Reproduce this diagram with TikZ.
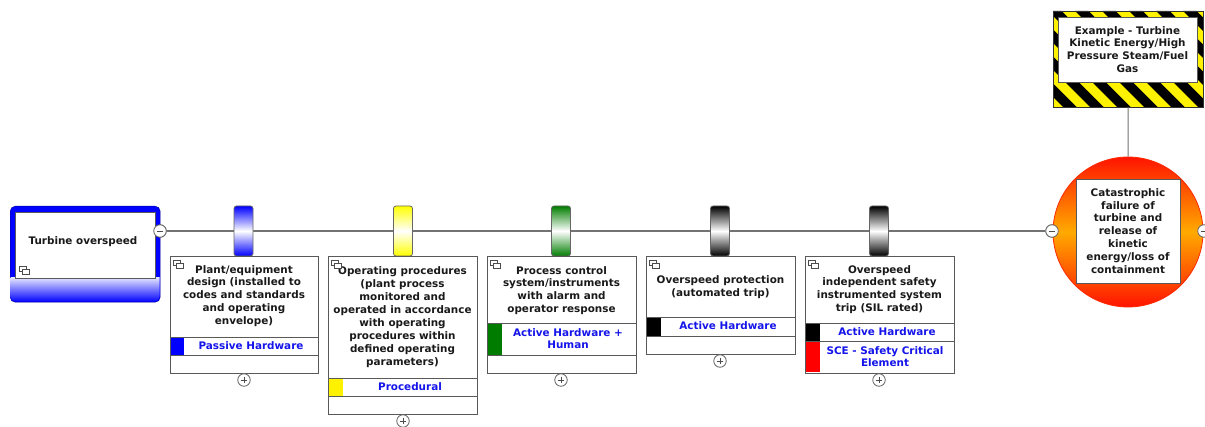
\documentclass[tikz,border=0pt]{standalone}
\usepackage{fontspec}
\setmainfont{DejaVu Sans}
\definecolor{lblue}{RGB}{20,20,235}
\definecolor{dgreen}{RGB}{0,125,0}
\definecolor{evred}{RGB}{255,20,0}
\definecolor{evorange}{RGB}{255,170,0}
\tikzset{
  frame/.style={draw=black!65, line width=0.9pt, fill=white, inner sep=0pt},
  ttl/.style={font=\bfseries\fontsize{10.4}{12.9}\selectfont, align=center, inner sep=0pt, text=black!90},
  lbl/.style={font=\bfseries\fontsize{10.4}{12.2}\selectfont, align=center, inner sep=0pt, text=lblue},
  rowline/.style={draw=black!65, line width=0.9pt},
  mainline/.style={draw=black!55, line width=1.1pt},
  tabbox/.style={draw=black!60, line width=0.8pt, rounded corners=2.5pt, minimum width=19pt, minimum height=50pt, inner sep=0pt},
  signnode/.style={circle, draw=black!60, fill=white, minimum size=12.5pt, inner sep=0pt, line width=0.8pt},
  minusnode/.style={signnode, path picture={\draw[black!70, line width=0.9pt] ([xshift=2.8pt]path picture bounding box.west) -- ([xshift=-2.8pt]path picture bounding box.east);}},
  plusnode/.style={signnode, path picture={\draw[black!70, line width=0.9pt] ([xshift=2.8pt]path picture bounding box.west) -- ([xshift=-2.8pt]path picture bounding box.east); \draw[black!70, line width=0.9pt] ([yshift=-2.8pt]path picture bounding box.north) -- ([yshift=2.8pt]path picture bounding box.south);}},
  dbl/.pic={\draw[black!70, line width=0.6pt, fill=white] (0,0) rectangle (7,5); \draw[black!70, line width=0.6pt, fill=white] (3,3) rectangle (10,8);}
}
\begin{document}
\begin{tikzpicture}[x=1pt,y=-1pt]
\useasboundingbox (0,0) rectangle (1205,427);
\fill[white] (0,0) rectangle (1205,427);

% main line
\node[minusnode] (m1) at (160,231) {};
\node[minusnode] (m2) at (1052,231) {};
\draw[mainline] (m1) -- (m2);

% Turbine overspeed (threat)
\node[draw=blue!60!black, fill=blue, rounded corners=5pt, minimum width=150pt, minimum height=96pt, anchor=north west, inner sep=0pt] (tb) at (10,206) {};
\begin{scope}
  \clip[rounded corners=5pt] (10.5,206.5) rectangle (159.5,301.5);
  \shade[top color=blue!12, bottom color=blue] (10,278) rectangle (160,302);
\end{scope}
\node[frame, minimum width=140pt, minimum height=66pt] (tbbox) at (85,245) {};
\node[ttl] (tbt) at (83,242) {Turbine overspeed};
\pic at (19,266) {dbl};
\node[minusnode] (m1b) at (160,231) {};

% barrier tabs
\node[tabbox, top color=blue, bottom color=blue, middle color=white] (g1) at (243.5,231) {};
\node[tabbox, top color=yellow, bottom color=yellow, middle color=white] (g2) at (403,231) {};
\node[tabbox, top color=dgreen, bottom color=dgreen, middle color=white] (g3) at (561,231) {};
\node[tabbox, top color=black, bottom color=black, middle color=white] (g4) at (720,231) {};
\node[tabbox, top color=black, bottom color=black, middle color=white] (g5) at (879,231) {};

% Barrier 1
\node[frame, anchor=north west, minimum width=148pt, minimum height=117pt] (b1) at (170,256) {};
\fill[blue] (170.5,337) rectangle (184,355);
\draw[rowline] (170,337) -- (318,337);
\draw[rowline] (170,355) -- (318,355);
\node[ttl] (b1t) at (244,296) {Plant/equipment\\design (installed to\\codes and standards\\and operating\\envelope)};
\node[lbl] (b1l) at (251,345.5) {Passive Hardware};
\pic at (173,260) {dbl};
\node[plusnode] (p1) at (244,380) {};

% Barrier 2
\node[frame, anchor=north west, minimum width=149pt, minimum height=158pt] (b2) at (328,256) {};
\fill[yellow] (328.5,378) rectangle (343,396);
\draw[rowline] (328,378) -- (477,378);
\draw[rowline] (328,396) -- (477,396);
\node[ttl] (b2t) at (402.5,317) {Operating procedures\\(plant process\\monitored and\\operated in accordance\\with operating\\procedures within\\defined operating\\parameters)};
\node[lbl] (b2l) at (410,386.5) {Procedural};
\pic at (331,260) {dbl};
\node[plusnode] (p2) at (403,421) {};

% Barrier 3
\node[frame, anchor=north west, minimum width=149pt, minimum height=117pt] (b3) at (487,256) {};
\fill[dgreen] (487.5,323) rectangle (502,355);
\draw[rowline] (487,323) -- (636,323);
\draw[rowline] (487,355) -- (636,355);
\node[ttl] (b3t) at (561.5,290.5) {Process control\\system/instruments\\with alarm and\\operator response};
\node[lbl] (b3l) at (568,339) {Active Hardware +\\Human};
\pic at (490,260) {dbl};
\node[plusnode] (p3) at (561,380) {};

% Barrier 4
\node[frame, anchor=north west, minimum width=149pt, minimum height=98pt] (b4) at (646,256) {};
\fill[black] (646.5,317) rectangle (661,336);
\draw[rowline] (646,317) -- (795,317);
\draw[rowline] (646,336) -- (795,336);
\node[ttl] (b4t) at (720.5,287.5) {Overspeed protection\\(automated trip)};
\node[lbl] (b4l) at (728,325.5) {Active Hardware};
\pic at (649,260) {dbl};
\node[plusnode] (p4) at (720,361) {};

% Barrier 5
\node[frame, anchor=north west, minimum width=149pt, minimum height=117pt] (b5) at (805,256) {};
\fill[black] (805.5,323) rectangle (820,341);
\fill[red] (805.5,341) rectangle (820,372.5);
\draw[rowline] (805,323) -- (954,323);
\draw[rowline] (805,341) -- (954,341);
\node[ttl] (b5t) at (879.5,289.5) {Overspeed\\independent safety\\instrumented system\\trip (SIL rated)};
\node[lbl] (b5l) at (887,331.5) {Active Hardware};
\node[lbl] (b5s) at (885,357) {SCE - Safety Critical\\Element};
\pic at (808,260) {dbl};
\node[plusnode] (p5) at (879,380) {};

% Hazard
\node[anchor=north west, minimum width=150pt, minimum height=96pt, fill=yellow, inner sep=0pt] (hz) at (1053,11) {};
\begin{scope}
  \clip (1053,11) rectangle (1203,107);
  \foreach \i in {0,...,12} {
    \fill[black] ({940+27*\i},11) -- ({953.5+27*\i},11) -- ({1049.5+27*\i},107) -- ({1036+27*\i},107) -- cycle;
  }
\end{scope}
\draw[black!80, line width=0.9pt] (hz.north west) rectangle (hz.south east);
\node[frame, ttl, minimum width=139pt, minimum height=65pt] (hzt) at (1127.5,49.5) {Example - Turbine\\Kinetic Energy/High\\Pressure Steam/Fuel\\Gas};

% Top event
\node[circle, minimum size=150pt, inner sep=0pt, draw=evred!80!orange, line width=0.8pt, top color=evred, bottom color=evred, middle color=evorange] (ev) at (1128,232) {};
\draw[mainline] (hz) -- (ev);
\node[frame, ttl, minimum width=104pt, minimum height=104pt] (evt) at (1128,231) {Catastrophic\\failure of\\turbine and\\release of\\kinetic\\energy/loss of\\containment};
\node[minusnode] (m2b) at (1052,231) {};
\node[minusnode] (m3) at (1204,231) {};
\end{tikzpicture}
\end{document}
